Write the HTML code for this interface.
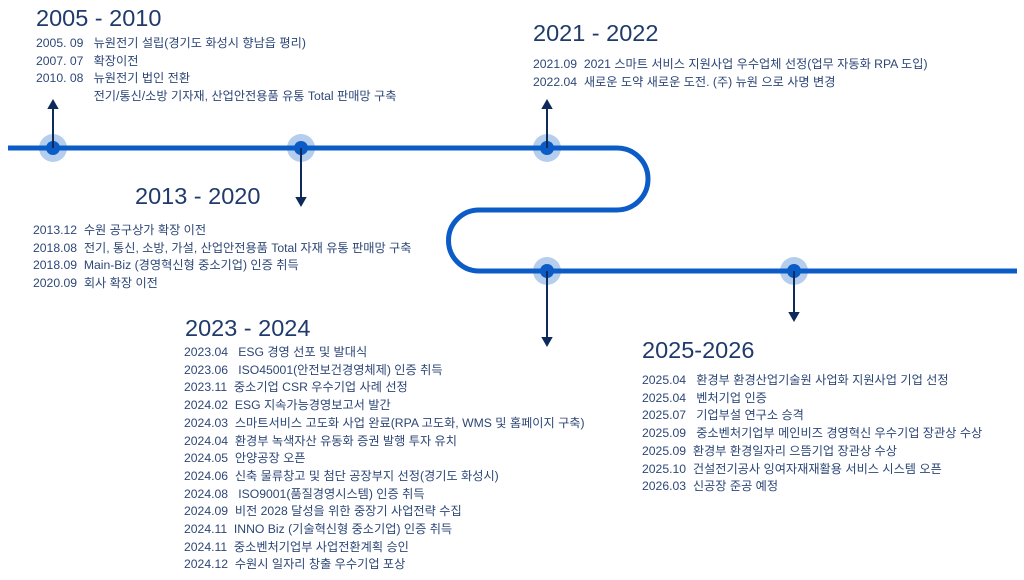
<!DOCTYPE html>
<html><head><meta charset="utf-8"><style>
body{margin:0;width:1024px;height:580px;background:#fff;position:relative;overflow:hidden;font-family:"Liberation Sans","Noto Sans CJK KR",sans-serif;}
.h{position:absolute;font-size:23.5px;color:#1f3a6b;line-height:30px;white-space:nowrap}
.l{position:absolute;font-size:12.2px;color:#2d4777;line-height:17.7px;white-space:pre}
svg{position:absolute;left:0;top:0}
</style></head><body>
<svg width="1024" height="580">
<path d="M8 148 H617 A31 31 0 0 1 617 210 H479 A30.5 30.5 0 0 0 479 271 H1017" fill="none" stroke="#0b5cc7" stroke-width="5"/>
<g fill="#0b5cc7" fill-opacity="0.3"><circle cx="53" cy="148" r="14"/><circle cx="301" cy="148" r="14"/><circle cx="547" cy="148" r="14"/><circle cx="547" cy="271" r="14"/><circle cx="794" cy="271" r="14"/></g>
<g fill="#0b5cc7"><circle cx="53" cy="148" r="7"/><circle cx="301" cy="148" r="7"/><circle cx="547" cy="148" r="7"/><circle cx="547" cy="271" r="7"/><circle cx="794" cy="271" r="7"/></g>
<g stroke="#0d2a5a" stroke-width="2" fill="#0d2a5a">
<line x1="53" y1="148" x2="53" y2="106"/><path d="M49 108 L53 101 L57 108Z"/>
<line x1="301" y1="148" x2="301" y2="200"/><path d="M297 198 L301 205 L305 198Z"/>
<line x1="547" y1="148" x2="547" y2="106"/><path d="M543 108 L547 101 L551 108Z"/>
<line x1="547" y1="271" x2="547" y2="340"/><path d="M543 338 L547 345 L551 338Z"/>
<line x1="794" y1="271" x2="794" y2="315"/><path d="M790 313 L794 320 L798 313Z"/>
</g>
</svg>
<div class="h" style="left:36px;top:3px">2005 - 2010</div>
<div class="l" style="left:36px;top:35px">2005. 09   뉴원전기 설립(경기도 화성시 향남읍 평리)
2007. 07   확장이전
2010. 08   뉴원전기 법인 전환
                 전기/통신/소방 기자재, 산업안전용품 유통 Total 판매망 구축</div>
<div class="h" style="left:533px;top:18px">2021 - 2022</div>
<div class="l" style="left:533px;top:56px">2021.09  2021 스마트 서비스 지원사업 우수업체 선정(업무 자동화 RPA 도입)
2022.04  새로운 도약 새로운 도전. (주) 뉴원 으로 사명 변경</div>
<div class="h" style="left:135px;top:181px">2013 - 2020</div>
<div class="l" style="left:33px;top:222px">2013.12  수원 공구상가 확장 이전
2018.08  전기, 통신, 소방, 가설, 산업안전용품 Total 자재 유통 판매망 구축
2018.09  Main-Biz (경영혁신형 중소기업) 인증 취득
2020.09  회사 확장 이전</div>
<div class="h" style="left:185px;top:313px">2023 - 2024</div>
<div class="l" style="left:184px;top:344px">2023.04   ESG 경영 선포 및 발대식
2023.06   ISO45001(안전보건경영체제) 인증 취득
2023.11  중소기업 CSR 우수기업 사례 선정
2024.02  ESG 지속가능경영보고서 발간
2024.03  스마트서비스 고도화 사업 완료(RPA 고도화, WMS 및 홈페이지 구축)
2024.04  환경부 녹색자산 유동화 증권 발행 투자 유치
2024.05  안양공장 오픈
2024.06  신축 물류창고 및 첨단 공장부지 선정(경기도 화성시)
2024.08   ISO9001(품질경영시스템) 인증 취득
2024.09  비전 2028 달성을 위한 중장기 사업전략 수집
2024.11  INNO Biz (기술혁신형 중소기업) 인증 취득
2024.11  중소벤처기업부 사업전환계획 승인
2024.12  수원시 일자리 창출 우수기업 포상</div>
<div class="h" style="left:642px;top:335px">2025-2026</div>
<div class="l" style="left:642px;top:372px">2025.04   환경부 환경산업기술원 사업화 지원사업 기업 선정
2025.04   벤처기업 인증
2025.07   기업부설 연구소 승격
2025.09   중소벤처기업부 메인비즈 경영혁신 우수기업 장관상 수상
2025.09  환경부 환경일자리 으뜸기업 장관상 수상
2025.10  건설전기공사 잉여자재재활용 서비스 시스템 오픈
2026.03  신공장 준공 예정</div>
</body></html>
